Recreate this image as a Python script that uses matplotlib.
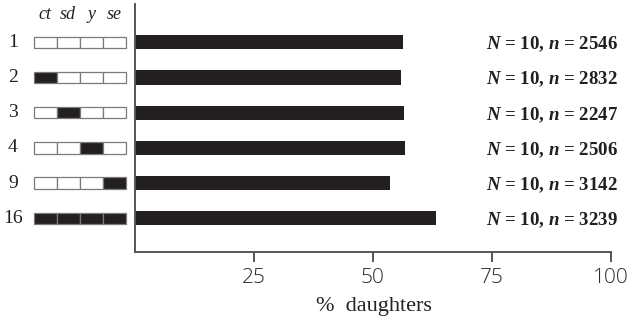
import matplotlib
matplotlib.use("Agg")
import matplotlib.pyplot as plt
from matplotlib.patches import Rectangle
from matplotlib import transforms

# Data
row_labels = ["1", "2", "3", "4", "9", "16"]
loci = ["ct", "sd", "y", "se"]
# 1 = marked locus (filled), 0 = open
genotypes = [
    [0, 0, 0, 0],
    [1, 0, 0, 0],
    [0, 1, 0, 0],
    [0, 0, 1, 0],
    [0, 0, 0, 1],
    [1, 1, 1, 1],
]
pct_daughters = [56.3, 56.0, 56.5, 56.9, 53.7, 63.4]
n_lines = [10, 10, 10, 10, 10, 10]
n_flies = [2546, 2832, 2247, 2506, 3142, 3239]
x_ticks = [25, 50, 75, 100]

plt.rcParams["mathtext.fontset"] = "custom"
plt.rcParams["mathtext.rm"] = "Liberation Serif:bold"
plt.rcParams["mathtext.it"] = "Liberation Serif:italic:bold"
plt.rcParams["mathtext.bf"] = "Liberation Serif:bold"

W, H = 631, 320
fig = plt.figure(figsize=(W / 100, H / 100), dpi=100)

dark = "#231f20"
axis_col = "#555555"

left_px, right_px, top_px, bot_px = 134.5, 610.7, 4, 252
ax = fig.add_axes([left_px / W, 1 - bot_px / H,
                   (right_px - left_px) / W, (bot_px - top_px) / H])

row_step = 35.2
y0_px = 42.3
ylim = ((bot_px - y0_px) / row_step, (top_px - y0_px) / row_step)

ypos = list(range(len(row_labels)))
ax.barh(ypos, pct_daughters, height=0.4, color=dark, edgecolor="none")
ax.set_xlim(0, 100)
ax.set_ylim(*ylim)

for s in ["top", "right"]:
    ax.spines[s].set_visible(False)
for s in ["left", "bottom"]:
    ax.spines[s].set_color(axis_col)
    ax.spines[s].set_linewidth(1.4)
ax.set_yticks([])
ax.set_xticks(x_ticks)
ax.set_xticklabels([str(t) for t in x_ticks], fontfamily="Open Sans",
                   fontsize=15, color="#2a2a2a", fontweight="light")
ax.tick_params(axis="x", direction="out", length=7.2, width=1.4,
               color=axis_col, pad=4)

# Sample sizes at right
tr = transforms.blended_transform_factory(fig.transFigure, ax.transData)
for y, N, n in zip(ypos, n_lines, n_flies):
    ax.text(618 / W, y + 0.06, rf"$N$ = {N}, $n$ = {n}", transform=tr,
            ha="right", va="center", fontfamily="Liberation Serif",
            fontweight="bold", fontsize=13.6, color=dark, clip_on=False)

fig.text(374 / W, 1 - 307 / H, "%  daughters", ha="center", va="center",
         fontfamily="Liberation Serif", fontsize=16, color="#222222")

# Genotype panel on the left
axl = fig.add_axes([0, 1 - bot_px / H, left_px / W, (bot_px - top_px) / H])
axl.set_xlim(0, left_px)
axl.set_ylim(*ylim)
axl.axis("off")

box_x = [34, 57, 80, 103]
box_w = 22.5
box_h = 11.5 / row_step
for y, lab, geno in zip(ypos, row_labels, genotypes):
    axl.text(13, y, lab, ha="center", va="center",
             fontfamily="Liberation Serif", fontsize=14, color=dark)
    for bx, g in zip(box_x, geno):
        axl.add_patch(Rectangle((bx, y - box_h / 2), box_w, box_h,
                                facecolor=dark if g else "white",
                                edgecolor="#7a7a7a", linewidth=0.9))
for bx, name in zip(box_x, loci):
    axl.text(bx + box_w / 2, (15 - y0_px) / row_step, name, ha="center",
             va="center", fontfamily="Liberation Serif", fontstyle="italic",
             fontsize=13, color=dark)

fig.savefig("out.png", dpi=100)
